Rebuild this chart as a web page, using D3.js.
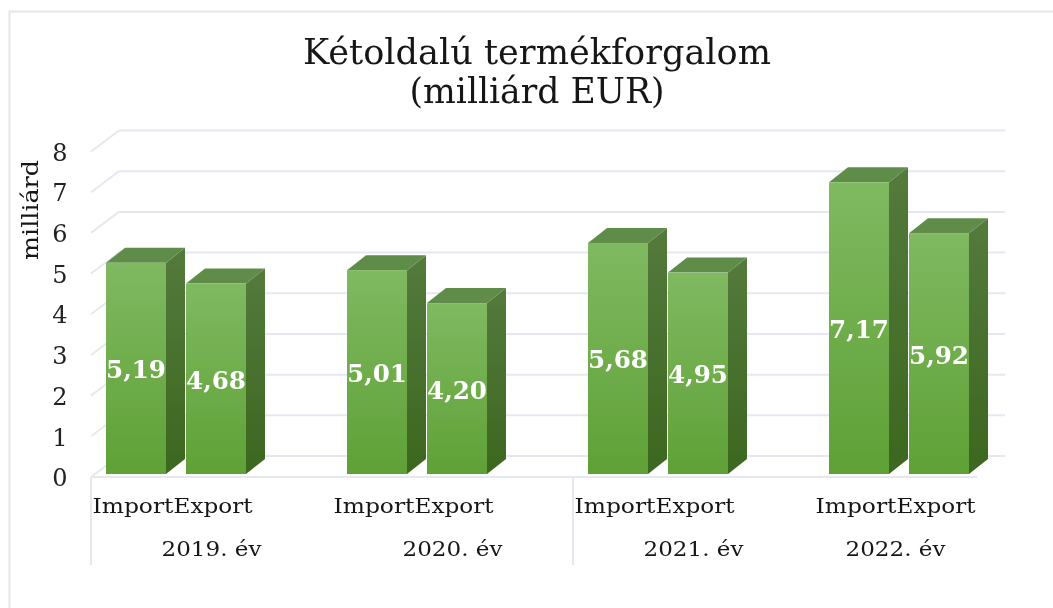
<!DOCTYPE html>
<html>
<head>
<meta charset="utf-8">
<script src="https://cdn.jsdelivr.net/npm/d3@7/dist/d3.min.js"></script>
<style>
html,body{margin:0;padding:0;background:#fff;overflow:hidden}
svg{display:block}
text{font-family:"DejaVu Serif",serif;fill:#161616}
</style>
</head>
<body>
<svg id="chart" width="1053" height="608"></svg>
<script>
const titleLines = ["Kétoldalú termékforgalom", "(milliárd EUR)"];
const yAxisTitle = "milliárd";
const years = ["2019. év", "2020. év", "2021. év", "2022. év"];
const flows = ["Import", "Export"];
const importValues = [5.19, 5.01, 5.68, 7.17];
const exportValues = [4.68, 4.20, 4.95, 5.92];
const yTicks = [0, 1, 2, 3, 4, 5, 6, 7, 8];
const separatorYears = ["2019. év", "2021. év"];

const rows = years.flatMap((year, i) => [
  {year, flow: flows[0], value: importValues[i]},
  {year, flow: flows[1], value: exportValues[i]}
]);

const W = 1053, H = 608;
const depthX = 19, depthY = 15;
const backDX = 28, backDY = 21;
const svg = d3.select("#chart");

const y = d3.scaleLinear().domain([0, 8]).range([477, 151.5]);
const x0 = d3.scaleBand().domain(years).range([91, 1055]);
const x1 = d3.scaleBand().domain(flows).range([15, 155]).paddingInner(0.25).paddingOuter(0);
const axisRight = 977;
const barShift = -3;
const fmt = v => d3.format(".2f")(v).replace(".", ",");

// gradients
const defs = svg.append("defs");
function grad(id, top, bottom) {
  const g = defs.append("linearGradient").attr("id", id).attr("x1", 0).attr("x2", 0).attr("y1", 0).attr("y2", 1);
  g.append("stop").attr("offset", "0%").attr("stop-color", top);
  g.append("stop").attr("offset", "100%").attr("stop-color", bottom);
}
grad("front", "#7fb961", "#5fa136");
grad("side", "#547a3c", "#3c6720");
defs.append("filter").attr("id", "soft").attr("x", "-5%").attr("y", "-5%").attr("width", "110%").attr("height", "110%")
  .append("feGaussianBlur").attr("stdDeviation", 0.6);

const root = svg.append("g").attr("filter", "url(#soft)");

// outer chart border
root.append("path").attr("d", `M9.5,${H + 10} V11.5 H${W + 10}`).attr("fill", "none").attr("stroke", "#e3e6ee").attr("stroke-width", 2);

// title
root.append("g").selectAll("text").data(titleLines).join("text")
  .attr("x", 537).attr("y", (d, i) => 64 + i * 39)
  .attr("text-anchor", "middle").attr("font-size", 36).text(d => d)
  .attr("textLength", (d, i) => i === 0 ? 468 : 255).attr("lengthAdjust", "spacingAndGlyphs");

// gridlines on back wall + floor diagonals
const gridColor = "#e5e8f0";
const grid = root.append("g");
grid.selectAll("line.back").data(yTicks).join("line").attr("class", "back")
  .attr("x1", 91 + backDX).attr("x2", 1005)
  .attr("y1", d => y(d) - backDY).attr("y2", d => y(d) - backDY)
  .attr("stroke", gridColor).attr("stroke-width", 2);
grid.selectAll("line.diag").data(yTicks).join("line").attr("class", "diag")
  .attr("x1", 91).attr("x2", 91 + backDX)
  .attr("y1", d => y(d)).attr("y2", d => y(d) - backDY)
  .attr("stroke", gridColor).attr("stroke-width", 2);

// front axis line and group separators
grid.append("line").attr("x1", 91).attr("x2", axisRight).attr("y1", y(0)).attr("y2", y(0))
  .attr("stroke", gridColor).attr("stroke-width", 2);
grid.selectAll("line.sep").data(separatorYears).join("line").attr("class", "sep")
  .attr("x1", d => x0(d)).attr("x2", d => x0(d)).attr("y1", y(0)).attr("y2", 565)
  .attr("stroke", gridColor).attr("stroke-width", 2);

// y axis
const yAxis = root.append("g").attr("transform", "translate(67.5,1)")
  .call(d3.axisLeft(y).tickValues(yTicks).tickSize(0).tickPadding(0).tickFormat(d3.format("d")));
yAxis.select(".domain").remove();
yAxis.selectAll("text").attr("font-size", 24).attr("font-family", '"DejaVu Serif",serif').style("fill", "#222");

root.append("text").attr("transform", "translate(37.5,210) rotate(-90)")
  .attr("text-anchor", "middle").attr("font-size", 22).text(yAxisTitle)
  .attr("textLength", 100).attr("lengthAdjust", "spacingAndGlyphs");

// bars
const bars = root.append("g").selectAll("g").data(rows).join("g")
  .attr("transform", d => `translate(${x0(d.year) + x1(d.flow)},0)`);
const bw = x1.bandwidth();
const base = y(0) + barShift;
bars.append("path").attr("fill", "url(#side)")
  .attr("d", d => {
    const t = y(d.value) + barShift;
    return `M${bw},${t} L${bw + depthX},${t - depthY} V${base - depthY} L${bw},${base} Z`;
  });
bars.append("path").attr("fill", "#618c49")
  .attr("d", d => {
    const t = y(d.value) + barShift;
    return `M0,${t} L${depthX},${t - depthY} H${bw + depthX} L${bw},${t} Z`;
  });
bars.append("rect").attr("x", 0).attr("width", bw)
  .attr("y", d => y(d.value) + barShift)
  .attr("height", d => base - (y(d.value) + barShift))
  .attr("fill", "url(#front)");
bars.append("text")
  .attr("x", bw / 2).attr("y", d => (y(d.value) + barShift + base) / 2 + 10)
  .attr("text-anchor", "middle").attr("font-size", 25).attr("font-weight", "bold")
  .style("fill", "#fff").text(d => fmt(d.value))
  .attr("textLength", 60).attr("lengthAdjust", "spacingAndGlyphs");

// category labels
bars.append("text")
  .attr("x", bw / 2 - 3)
  .attr("y", 513).attr("text-anchor", "middle").attr("font-size", 21).text(d => d.flow)
  .attr("textLength", d => d.flow === flows[0] ? 81 : 79).attr("lengthAdjust", "spacingAndGlyphs");

// year labels, centred on the part of each band left of the axis end
root.append("g").selectAll("text").data(years).join("text")
  .attr("x", d => (x0(d) + Math.min(x0(d) + x0.bandwidth(), axisRight)) / 2)
  .attr("y", 556).attr("text-anchor", "middle").attr("font-size", 21).text(d => d)
  .attr("textLength", 100).attr("lengthAdjust", "spacingAndGlyphs");
</script>
</body>
</html>
